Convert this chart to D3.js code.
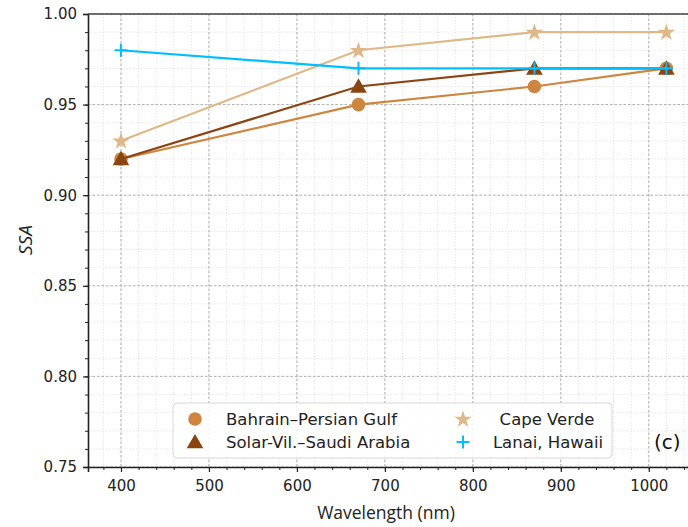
<!DOCTYPE html>
<html><head><meta charset="utf-8">
<script src="https://cdn.jsdelivr.net/npm/d3@7"></script>
<style>body{margin:0;background:#fff}svg{display:block}</style>
</head><body>
<svg id="c" width="688" height="527"></svg>
<script>
const wavelengths = [400, 670, 870, 1020];
const bahrain = [0.92, 0.95, 0.96, 0.97];
const solarVil = [0.92, 0.96, 0.97, 0.97];
const capeVerde = [0.93, 0.98, 0.99, 0.99];
const lanai = [0.98, 0.97, 0.97, 0.97];
const seriesNames = ["Bahrain\u2013Persian Gulf", "Solar-Vil.\u2013Saudi Arabia", "Cape Verde", "Lanai, Hawaii"];
const xTicks = [400, 500, 600, 700, 800, 900, 1000];
const yTicks = [0.75, 0.80, 0.85, 0.90, 0.95, 1.00];

const series = [
  {name: seriesNames[0], values: bahrain, color: "#CD853F", sym: "circle"},
  {name: seriesNames[1], values: solarVil, color: "#8B4513", sym: "triangle"},
  {name: seriesNames[2], values: capeVerde, color: "#DEB887", sym: "star"},
  {name: seriesNames[3], values: lanai, color: "#00BFFF", sym: "plus"}
];

const svg = d3.select("#c");
const L = 88, T = 14, B = 467, R = 691;
const x = d3.scaleLinear().domain([362.5, 1048]).range([L, R]);
const y = d3.scaleLinear().domain([0.75, 1.00]).range([B, T]);

const g = svg.append("g");
// minor grid
const xMinor = d3.range(380, 1041, 20);
const yMinor = d3.range(0, 26).map(i => 0.75 + i * 0.01);
g.selectAll(".xm").data(xMinor).enter().append("line")
  .attr("x1", d => x(d)).attr("x2", d => x(d)).attr("y1", T).attr("y2", B)
  .attr("stroke", "#e2e2e2").attr("stroke-width", 0.8).attr("stroke-dasharray", "1.5,1.5");
g.selectAll(".ym").data(yMinor).enter().append("line")
  .attr("x1", L).attr("x2", R).attr("y1", d => y(d)).attr("y2", d => y(d))
  .attr("stroke", "#e2e2e2").attr("stroke-width", 0.8).attr("stroke-dasharray", "1.5,1.5");
// major grid
g.selectAll(".xM").data(xTicks).enter().append("line")
  .attr("x1", d => x(d)).attr("x2", d => x(d)).attr("y1", T).attr("y2", B)
  .attr("stroke", "#a8a8a8").attr("stroke-width", 0.9).attr("stroke-dasharray", "2.5,2");
g.selectAll(".yM").data(yTicks).enter().append("line")
  .attr("x1", L).attr("x2", R).attr("y1", d => y(d)).attr("y2", d => y(d))
  .attr("stroke", "#a8a8a8").attr("stroke-width", 0.9).attr("stroke-dasharray", "2.5,2");

// axes
const xAxis = d3.axisBottom(x).tickValues(xTicks).tickFormat(d3.format("d")).tickSize(5).tickPadding(8);
const yAxis = d3.axisLeft(y).tickValues(yTicks).tickFormat(d3.format(".2f")).tickSize(5).tickPadding(6);
const xMinAxis = d3.axisBottom(x).tickValues(xMinor).tickFormat("").tickSize(3);
const yMinAxis = d3.axisLeft(y).tickValues(yMinor).tickFormat("").tickSize(3);
svg.append("g").attr("transform", `translate(0,${B})`).call(xMinAxis).call(s => s.select(".domain").remove());
svg.append("g").attr("transform", `translate(${L},0)`).call(yMinAxis).call(s => s.select(".domain").remove());
const gx = svg.append("g").attr("transform", `translate(0,${B})`).call(xAxis);
const gy = svg.append("g").attr("transform", `translate(${L},0)`).call(yAxis);
[gx, gy].forEach(a => {
  a.select(".domain").attr("stroke", "#222").attr("stroke-width", 1.6);
  a.selectAll(".tick line").attr("stroke", "#222").attr("stroke-width", 1.2);
  a.selectAll("text").attr("font-family", "DejaVu Sans").attr("font-size", 15).attr("fill", "#222");
});
svg.selectAll("g .tick line").attr("stroke", "#222");
// top spine
svg.append("line").attr("x1", L).attr("x2", R).attr("y1", T).attr("y2", T)
  .attr("stroke", "#444").attr("stroke-width", 1.6);

// symbols
function symbolPath(sym, size) {
  const m = {circle: d3.symbolCircle, triangle: d3.symbolTriangle, star: d3.symbolStar, plus: d3.symbolCross};
  return d3.symbol().type(m[sym]).size(size)();
}
function drawMarker(sel, s, cx, cy) {
  if (s.sym === "plus") {
    sel.append("path").attr("d", `M${cx-6.5},${cy}H${cx+6.5}M${cx},${cy-6.5}V${cy+6.5}`)
      .attr("stroke", s.color).attr("stroke-width", 2).attr("fill", "none");
  } else if (s.sym === "circle") {
    sel.append("circle").attr("cx", cx).attr("cy", cy).attr("r", 6.8).attr("fill", s.color);
  } else if (s.sym === "triangle") {
    sel.append("path").attr("d", symbolPath("triangle", 120)).attr("transform", `translate(${cx},${cy+1.5})`).attr("fill", s.color);
  } else {
    sel.append("path").attr("d", symbolPath("star", 95)).attr("transform", `translate(${cx},${cy+0.5})`).attr("fill", s.color);
  }
}
const line = d3.line().x(d => x(d[0])).y(d => y(d[1]));
series.forEach(s => {
  const pts = wavelengths.map((w, i) => [w, s.values[i]]);
  const sg = svg.append("g");
  sg.append("path").attr("d", line(pts)).attr("fill", "none").attr("stroke", s.color).attr("stroke-width", 2.2);
  pts.forEach(p => drawMarker(sg, s, x(p[0]), y(p[1])));
});

// legend
const lg = svg.append("g");
lg.append("rect").attr("x", 173).attr("y", 403).attr("width", 439).attr("height", 55).attr("rx", 4)
  .attr("fill", "#fff").attr("fill-opacity", 0.85).attr("stroke", "#d8d8d8").attr("stroke-width", 1);
const legPos = [[195, 419, 226, "start"], [195, 442, 226, "start"], [463, 419, 547, "middle"], [463, 442, 548, "middle"]];
series.forEach((s, i) => {
  const [mx, my, tx, anc] = legPos[i];
  drawMarker(lg, s, mx, my);
  lg.append("text").attr("x", tx).attr("y", my + 6).attr("text-anchor", anc)
    .attr("font-family", "DejaVu Sans").attr("font-size", 16.5).attr("fill", "#222").text(s.name);
});

// panel label
svg.append("text").attr("x", 654).attr("y", 449).attr("font-family", "DejaVu Sans").attr("font-size", 20)
  .attr("fill", "#111").text("(c)");
// axis titles
svg.append("text").attr("x", 386).attr("y", 519).attr("text-anchor", "middle")
  .attr("font-family", "Open Sans").attr("font-size", 17.5).attr("fill", "#222").text("Wavelength (nm)");
svg.append("text").attr("transform", "translate(32,240) rotate(-90)").attr("text-anchor", "middle")
  .attr("font-family", "Open Sans").attr("font-style", "italic").attr("font-size", 19).attr("fill", "#222").text("SSA");
</script>
</body></html>
